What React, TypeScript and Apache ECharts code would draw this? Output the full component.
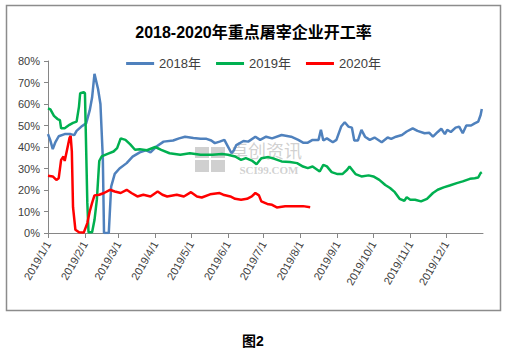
import React, { useEffect, useRef } from "react";
import * as echarts from "echarts";

const seriesNames = ["2018年", "2019年", "2020年"];

const dates2018 = ["01-01","01-03","01-05","01-07","01-10","01-15","01-20","01-23","01-25","01-29","02-02","02-05","02-07","02-09","02-12","02-14","02-16","02-17","02-21","02-23","02-26","03-02","03-08","03-13","03-19","03-24","03-28","04-02","04-08","04-16","04-21","04-26","05-03","05-09","05-14","05-18","05-21","05-25","05-29","06-01","06-04","06-06","06-08","06-14","06-18","06-24","06-28","07-03","07-08","07-16","07-24","07-30","08-03","08-07","08-11","08-16","08-18","08-20","08-23","08-28","08-31","09-04","09-07","09-10","09-13","09-15","09-18","09-21","09-24","09-28","10-02","10-08","10-13","10-16","10-20","10-25","10-29","11-03","11-07","11-13","11-17","11-20","11-24","11-27","11-30","12-02","12-05","12-09","12-12","12-15","12-18","12-22","12-25","12-28","12-30","12-31"];
const values2018 = [46,43,39,42,45,46,46,45.5,47.5,49.5,51,57,63,74,67,60,35,0,0,21.6,27.5,30,32.5,35.5,37.5,38.5,37.5,40.2,42.5,43,44,44.8,44.2,43.8,43.8,43,41.8,42.5,43.3,40.2,37.1,38.5,40.9,42.8,42.5,44.8,43.3,44.8,44,45.6,44.8,43.3,42,42,43.3,43.3,48,43,44,42.2,43.3,49.5,51.5,49.5,49,43,43,48,44.8,43.3,44.4,42.2,44.4,43.8,44.8,45.6,47.2,48.7,47.5,46.4,46.6,44.8,47,48.5,46,48,47,49,49.5,46.4,50,50,51,51.8,54.9,57.7];

const dates2019 = ["01-01","01-03","01-06","01-09","01-11","01-12","01-15","01-19","01-22","01-25","01-27","01-28","01-31","02-01","02-03","02-04","02-07","02-09","02-11","02-13","02-15","02-20","02-25","02-28","03-03","03-07","03-11","03-15","03-19","03-25","04-01","04-06","04-13","04-22","04-30","05-09","05-19","05-27","06-01","06-07","06-12","06-16","06-21","06-25","06-29","07-05","07-10","07-16","07-23","07-29","08-03","08-07","08-11","08-17","08-20","08-23","08-27","09-01","09-05","09-09","09-11","09-16","09-21","09-27","10-01","10-06","10-11","10-15","10-19","10-23","10-27","10-29","11-01","11-05","11-10","11-15","11-20","11-24","11-29","12-04","12-10","12-15","12-21","12-25","12-28","12-30","12-31"];
const values2019 = [58,57.5,54.5,53,52.5,48.7,48.7,50.3,51.2,51.8,58.8,65,65.5,65,14,0.3,0.3,6,15.5,33.5,35.6,36.8,37.9,39.5,44,43.3,41.2,38.7,39,38.5,40,38.7,37.1,36.4,37.1,36.4,36.4,36.7,36.4,35.6,34,34.8,33.7,32,34.8,35.3,34.5,33.3,33,32.5,30.9,30.2,30.9,28.6,31.7,31,28.3,27.4,27.4,29.4,30.9,27.4,26.3,26.8,26.3,24.7,22.3,20.9,19,15.9,15,16.6,15.5,15.5,14.7,15.9,18.6,20.1,21.2,22.1,23.2,24,25.2,25.5,25.8,27.9,28.3];

const dates2020 = ["01-01","01-05","01-08","01-10","01-12","01-14","01-15","01-17","01-19","01-20","01-21","01-22","01-24","01-27","01-31","02-03","02-05","02-07","02-09","02-13","02-17","02-22","02-26","03-03","03-08","03-12","03-17","03-22","03-28","04-03","04-07","04-11","04-19","04-25","05-01","05-06","05-10","05-17","05-25","05-28","06-03","06-07","06-12","06-17","06-21","06-24","06-27","06-29","07-04","07-08","07-12","07-19","07-27","08-03","08-09"];
const values2020 = [26.6,26.3,24.7,25.5,34,35.6,33.5,38.7,44.1,45.2,38,12,1.5,0.3,0.2,4.6,10,14,17.5,17.8,18.6,20.1,19.3,18.6,20.1,18.6,17,17.8,17,19.3,17.8,17,17.8,17,19,17,16.5,18,18.6,17.8,17,15.9,15.5,15.9,17,18.6,17.5,14.7,13.5,13.1,11.9,12.4,12.4,12.5,12];

const axisYear = "2019";
const axisStart = "2019-01-01";
const axisEnd = "2020-01-01";
const yTicks = [0, 10, 20, 30, 40, 50, 60, 70, 80];
const colors = ["#4F81BD", "#00B050", "#FF0000"];

const toPairs = (dates: string[], vals: number[]) =>
  dates.map((d, i) => [`${axisYear}-${d}`, vals[i]]);

export default function App() {
  const ref = useRef<HTMLDivElement>(null);
  useEffect(() => {
    if (!ref.current) return;
    const chart = echarts.init(ref.current, undefined, { renderer: "svg" });
    const font = "'Liberation Sans', 'Noto Sans CJK SC', sans-serif";
    const allDates = [dates2018, dates2019, dates2020];
    const allVals = [values2018, values2019, values2020];
    const wm = "rgba(170,170,170,0.55)";
    chart.setOption({
      animation: false,
      backgroundColor: "#ffffff",
      title: {
        text: "2018-2020年重点屠宰企业开工率",
        left: "center",
        top: 19,
        textStyle: { fontSize: 16, fontWeight: "bold", color: "#000", fontFamily: font },
      },
      legend: {
        data: seriesNames,
        top: 52,
        left: "center",
        icon: "rect",
        itemWidth: 28,
        itemHeight: 3,
        itemGap: 15,
        textStyle: { fontSize: 13, color: "#404040", fontFamily: font },
      },
      grid: { left: 48, right: 24, top: 61, bottom: 118, containLabel: false, outerBoundsMode: "none" },
      xAxis: {
        type: "time",
        min: axisStart,
        max: axisEnd,
        splitNumber: 12,
        minInterval: 28 * 86400000,
        maxInterval: 31 * 86400000,
        axisLine: { lineStyle: { color: "#868686", width: 1 } },
        axisTick: { show: true, length: 5, lineStyle: { color: "#868686" } },
        splitLine: { show: false },
        axisLabel: {
          rotate: 60,
          margin: 9,
          fontSize: 11,
          color: "#404040",
          fontFamily: font,
          showMaxLabel: false,
          showMinLabel: true,
          formatter: (val: number) => {
            const d = new Date(val);
            return `${d.getFullYear()}/${d.getMonth() + 1}/${d.getDate()}`;
          },
        },
      },
      yAxis: {
        type: "value",
        min: yTicks[0],
        max: yTicks[yTicks.length - 1],
        interval: 10,
        axisLine: { show: true, lineStyle: { color: "#868686", width: 1 } },
        axisTick: { show: true, length: 4, lineStyle: { color: "#868686" } },
        splitLine: { show: false },
        axisLabel: { formatter: "{value}%", fontSize: 11, color: "#404040", fontFamily: font, margin: 8 },
      },
      graphic: [
        {
          type: "rect",
          z: 0,
          shape: { x: 6.5, y: 5.5, width: 494, height: 305 },
          style: { fill: "none", stroke: "#8c8c8c", lineWidth: 1.5 },
        },
        {
          type: "group",
          z: 0,
          children: [
            { type: "rect", shape: { x: 195, y: 147, width: 14, height: 11 }, style: { fill: wm } },
            { type: "rect", shape: { x: 211, y: 147, width: 14, height: 11 }, style: { fill: wm } },
            { type: "rect", shape: { x: 195, y: 160, width: 14, height: 12 }, style: { fill: wm } },
            { type: "rect", shape: { x: 211, y: 160, width: 14, height: 12 }, style: { fill: wm } },
            {
              type: "text",
              style: {
                text: "卓创资讯", x: 266, y: 150, textAlign: "center", textVerticalAlign: "middle",
                fontSize: 18, fontFamily: "'Noto Sans CJK SC'", fill: wm,
              },
            },
            {
              type: "text",
              style: {
                text: "SCI99.COM", x: 269, y: 170, textAlign: "center", textVerticalAlign: "middle",
                fontSize: 11, fontWeight: "bold", fontFamily: "'Liberation Serif'", fill: wm,
              },
            },
          ],
        },
        {
          type: "text",
          style: {
            text: "图2", x: 253, y: 341, textAlign: "center", textVerticalAlign: "middle",
            fontSize: 14, fontWeight: "bold", fontFamily: font, fill: "#000",
          },
        },
      ],
      series: seriesNames.map((name, i) => ({
        name,
        type: "line",
        data: toPairs(allDates[i], allVals[i]),
        showSymbol: false,
        symbol: "none",
        z: 3,
        lineStyle: { color: colors[i], width: 2.5 },
        itemStyle: { color: colors[i] },
      })),
    });
    return () => chart.dispose();
  }, []);
  return (
    <div
      ref={ref}
      style={{ position: "fixed", left: 0, top: 0, width: 507, height: 351 }}
    />
  );
}
